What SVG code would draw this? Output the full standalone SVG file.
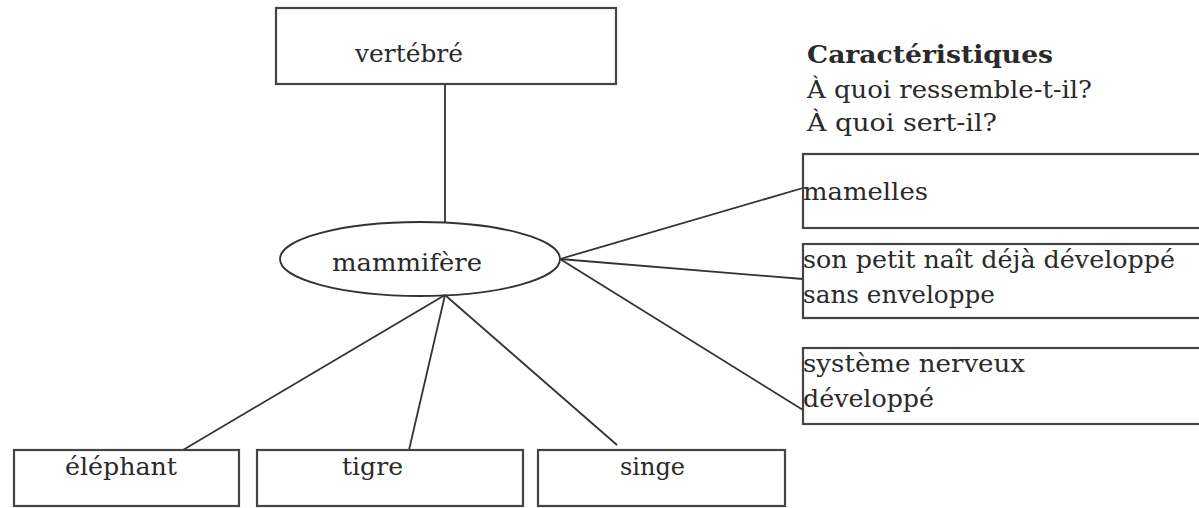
<svg xmlns="http://www.w3.org/2000/svg" width="1199" height="508" viewBox="0 0 1199 508">
<style>
.box{fill:#fff;stroke:#444;stroke-width:2.2}
.ln{stroke:#333;stroke-width:1.8;fill:none}
text{font-family:"DejaVu Serif","Liberation Serif",serif;font-size:24px;fill:#2a2a2a}
.b{font-weight:bold}
</style>
<rect width="1199" height="508" fill="#fff"/>
<g id="connectors">
<line class="ln" x1="445" y1="85" x2="445" y2="222"/>
<line class="ln" x1="560" y1="259" x2="803" y2="188"/>
<line class="ln" x1="560" y1="259" x2="803" y2="279"/>
<line class="ln" x1="560" y1="259" x2="803" y2="410"/>
<line class="ln" x1="445" y1="295" x2="183" y2="450"/>
<line class="ln" x1="445" y1="295" x2="409" y2="450"/>
<line class="ln" x1="445" y1="295" x2="617" y2="445"/>
</g>
<g id="vertebre"><rect class="box" x="276" y="8" width="340" height="76"/><text x="355" y="62" textLength="108" lengthAdjust="spacingAndGlyphs">vertébré</text></g>
<g id="mammifere"><ellipse cx="420" cy="259" rx="140" ry="37" fill="none" stroke="#333" stroke-width="1.8"/><text x="332" y="271" textLength="150" lengthAdjust="spacingAndGlyphs">mammifère</text></g>
<g id="caracteristiques">
<text class="b" x="807" y="63" textLength="246" lengthAdjust="spacingAndGlyphs">Caractéristiques</text>
<text x="807" y="98" textLength="285" lengthAdjust="spacingAndGlyphs">À quoi ressemble-t-il?</text>
<text x="807" y="131" textLength="190" lengthAdjust="spacingAndGlyphs">À quoi sert-il?</text>
</g>
<g id="mamelles"><rect class="box" x="803" y="154" width="400" height="74"/><text x="803" y="200" textLength="125" lengthAdjust="spacingAndGlyphs">mamelles</text></g>
<g id="petit"><rect class="box" x="803" y="244" width="400" height="74"/><text x="803" y="268" textLength="372" lengthAdjust="spacingAndGlyphs">son petit naît déjà développé</text><text x="803" y="303" textLength="192" lengthAdjust="spacingAndGlyphs">sans enveloppe</text></g>
<g id="nerveux"><rect class="box" x="803" y="348" width="400" height="76"/><text x="803" y="372" textLength="222" lengthAdjust="spacingAndGlyphs">système nerveux</text><text x="803" y="407" textLength="131" lengthAdjust="spacingAndGlyphs">développé</text></g>
<g id="elephant"><rect class="box" x="14" y="450" width="225" height="56"/><text x="65" y="475" textLength="112" lengthAdjust="spacingAndGlyphs">éléphant</text></g>
<g id="tigre"><rect class="box" x="257" y="450" width="266" height="56"/><text x="342" y="475" textLength="61" lengthAdjust="spacingAndGlyphs">tigre</text></g>
<g id="singe"><rect class="box" x="538" y="450" width="247" height="56"/><text x="620" y="475" textLength="65" lengthAdjust="spacingAndGlyphs">singe</text></g>
</svg>
